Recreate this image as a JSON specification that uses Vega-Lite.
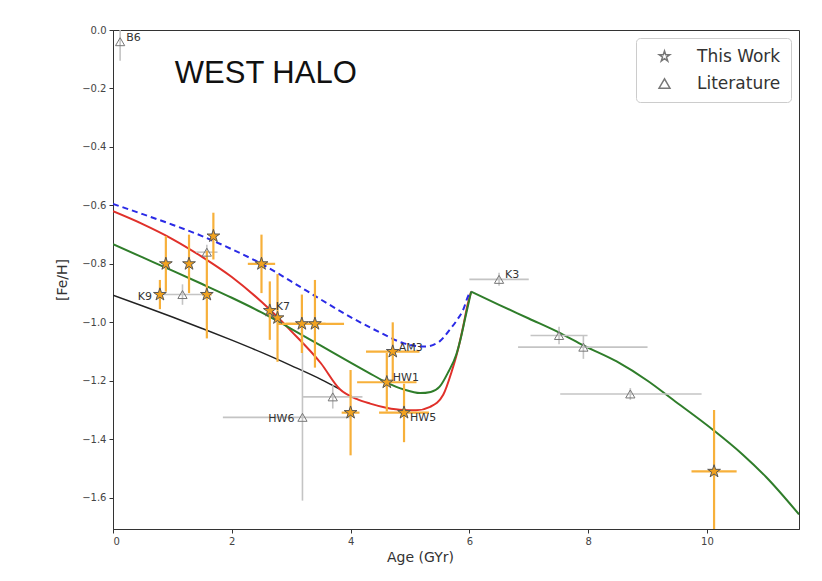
{
  "$schema": "https://vega.github.io/schema/vega-lite/v6.json",
  "width": 686,
  "height": 499,
  "autosize": {"type": "none"},
  "padding": {"left": 113, "top": 30, "right": 23, "bottom": 52},
  "background": "white",
  "config": {
    "font": "DejaVu Sans",
    "view": {"stroke": "#333", "strokeWidth": 1},
    "axis": {
      "grid": false,
      "domainColor": "#333",
      "tickColor": "#333",
      "tickSize": 4,
      "labelColor": "#444",
      "labelFont": "DejaVu Sans",
      "labelFontSize": 10,
      "labelPadding": 3,
      "titleFont": "DejaVu Sans",
      "titleFontSize": 14,
      "titleFontWeight": "normal",
      "titleColor": "#333"
    },
    "legend": {
      "labelFont": "DejaVu Sans",
      "labelFontSize": 17,
      "labelColor": "#333"
    }
  },
  "datasets": {
    "models": [
      {"model": "black", "age": 0.0, "feh": -0.907},
      {"model": "black", "age": 0.5, "feh": -0.944},
      {"model": "black", "age": 1.0, "feh": -0.982},
      {"model": "black", "age": 1.5, "feh": -1.021},
      {"model": "black", "age": 2.0, "feh": -1.061},
      {"model": "black", "age": 2.5, "feh": -1.103},
      {"model": "black", "age": 3.0, "feh": -1.148},
      {"model": "black", "age": 3.5, "feh": -1.195},
      {"model": "black", "age": 3.82, "feh": -1.229},

      {"model": "red", "age": 0.0, "feh": -0.62},
      {"model": "red", "age": 0.5, "feh": -0.664},
      {"model": "red", "age": 1.0, "feh": -0.715},
      {"model": "red", "age": 1.5, "feh": -0.776},
      {"model": "red", "age": 2.0, "feh": -0.845},
      {"model": "red", "age": 2.5, "feh": -0.93},
      {"model": "red", "age": 3.0, "feh": -1.03},
      {"model": "red", "age": 3.5, "feh": -1.14},
      {"model": "red", "age": 3.82, "feh": -1.229},
      {"model": "red", "age": 4.1, "feh": -1.262},
      {"model": "red", "age": 4.33, "feh": -1.278},
      {"model": "red", "age": 4.6, "feh": -1.292},
      {"model": "red", "age": 4.89, "feh": -1.3},
      {"model": "red", "age": 5.1, "feh": -1.301},
      {"model": "red", "age": 5.34, "feh": -1.289},
      {"model": "red", "age": 5.56, "feh": -1.248},
      {"model": "red", "age": 5.7, "feh": -1.17},
      {"model": "red", "age": 5.8, "feh": -1.1},
      {"model": "red", "age": 5.9, "feh": -1.01},
      {"model": "red", "age": 5.97, "feh": -0.94},
      {"model": "red", "age": 6.03, "feh": -0.895},

      {"model": "green", "age": 0.0, "feh": -0.733},
      {"model": "green", "age": 0.5, "feh": -0.778},
      {"model": "green", "age": 1.0, "feh": -0.823},
      {"model": "green", "age": 1.5, "feh": -0.869},
      {"model": "green", "age": 2.0, "feh": -0.916},
      {"model": "green", "age": 2.5, "feh": -0.966},
      {"model": "green", "age": 3.0, "feh": -1.022},
      {"model": "green", "age": 3.5, "feh": -1.08},
      {"model": "green", "age": 4.0, "feh": -1.138},
      {"model": "green", "age": 4.3, "feh": -1.172},
      {"model": "green", "age": 4.61, "feh": -1.206},
      {"model": "green", "age": 4.9, "feh": -1.23},
      {"model": "green", "age": 5.17, "feh": -1.242},
      {"model": "green", "age": 5.35, "feh": -1.238},
      {"model": "green", "age": 5.5, "feh": -1.22},
      {"model": "green", "age": 5.65, "feh": -1.168},
      {"model": "green", "age": 5.78, "feh": -1.11},
      {"model": "green", "age": 5.86, "feh": -1.05},
      {"model": "green", "age": 5.93, "feh": -0.985},
      {"model": "green", "age": 6.03, "feh": -0.895},

      {"model": "tail", "age": 6.03, "feh": -0.895},
      {"model": "tail", "age": 6.5, "feh": -0.94},
      {"model": "tail", "age": 7.0, "feh": -0.987},
      {"model": "tail", "age": 7.53, "feh": -1.037},
      {"model": "tail", "age": 7.92, "feh": -1.079},
      {"model": "tail", "age": 8.48, "feh": -1.134},
      {"model": "tail", "age": 9.0, "feh": -1.2},
      {"model": "tail", "age": 9.43, "feh": -1.265},
      {"model": "tail", "age": 10.11, "feh": -1.369},
      {"model": "tail", "age": 10.6, "feh": -1.452},
      {"model": "tail", "age": 11.0, "feh": -1.53},
      {"model": "tail", "age": 11.55, "feh": -1.657},

      {"model": "blue", "age": 0.0, "feh": -0.595},
      {"model": "blue", "age": 0.5, "feh": -0.63},
      {"model": "blue", "age": 1.0, "feh": -0.666},
      {"model": "blue", "age": 1.5, "feh": -0.705},
      {"model": "blue", "age": 2.0, "feh": -0.75},
      {"model": "blue", "age": 2.5, "feh": -0.8},
      {"model": "blue", "age": 3.0, "feh": -0.86},
      {"model": "blue", "age": 3.5, "feh": -0.922},
      {"model": "blue", "age": 4.0, "feh": -0.982},
      {"model": "blue", "age": 4.5, "feh": -1.035},
      {"model": "blue", "age": 4.9, "feh": -1.072},
      {"model": "blue", "age": 5.25, "feh": -1.083},
      {"model": "blue", "age": 5.5, "feh": -1.065},
      {"model": "blue", "age": 5.67, "feh": -1.025},
      {"model": "blue", "age": 5.8, "feh": -0.99},
      {"model": "blue", "age": 5.9, "feh": -0.955},
      {"model": "blue", "age": 5.98, "feh": -0.91},
      {"model": "blue", "age": 6.03, "feh": -0.895}
    ],
    "obs": [
      {"source": "Literature", "age": 0.12, "feh": -0.04, "age_lo": 0.12, "age_hi": 0.12, "feh_lo": -0.105, "feh_hi": 0.025, "label": "B6"},
      {"source": "Literature", "age": 1.17, "feh": -0.905, "age_lo": 0.82, "age_hi": 1.52, "feh_lo": -0.94, "feh_hi": -0.87, "label": ""},
      {"source": "Literature", "age": 1.58, "feh": -0.76, "age_lo": 1.4, "age_hi": 1.76, "feh_lo": -0.785, "feh_hi": -0.735, "label": ""},
      {"source": "Literature", "age": 3.19, "feh": -1.325, "age_lo": 1.85, "age_hi": 4.0, "feh_lo": -1.61, "feh_hi": -1.0, "label": "HW6"},
      {"source": "Literature", "age": 3.7, "feh": -1.255, "age_lo": 3.2, "age_hi": 4.2, "feh_lo": -1.295, "feh_hi": -1.215, "label": ""},
      {"source": "Literature", "age": 6.5, "feh": -0.853, "age_lo": 6.0, "age_hi": 7.0, "feh_lo": -0.875, "feh_hi": -0.83, "label": "K3"},
      {"source": "Literature", "age": 7.51, "feh": -1.045, "age_lo": 7.03, "age_hi": 7.99, "feh_lo": -1.075, "feh_hi": -1.015, "label": ""},
      {"source": "Literature", "age": 7.92, "feh": -1.085, "age_lo": 6.82, "age_hi": 9.0, "feh_lo": -1.125, "feh_hi": -1.045, "label": ""},
      {"source": "Literature", "age": 8.71, "feh": -1.245, "age_lo": 7.53, "age_hi": 9.91, "feh_lo": -1.265, "feh_hi": -1.225, "label": ""},

      {"source": "This Work", "age": 0.79, "feh": -0.905, "age_lo": 0.74, "age_hi": 0.84, "feh_lo": -0.955, "feh_hi": -0.855, "label": "K9"},
      {"source": "This Work", "age": 0.89, "feh": -0.8, "age_lo": 0.89, "age_hi": 0.89, "feh_lo": -0.895, "feh_hi": -0.705, "label": ""},
      {"source": "This Work", "age": 1.28, "feh": -0.8, "age_lo": 1.28, "age_hi": 1.28, "feh_lo": -0.9, "feh_hi": -0.7, "label": ""},
      {"source": "This Work", "age": 1.58, "feh": -0.905, "age_lo": 1.5, "age_hi": 1.66, "feh_lo": -1.055, "feh_hi": -0.755, "label": ""},
      {"source": "This Work", "age": 1.69, "feh": -0.705, "age_lo": 1.69, "age_hi": 1.69, "feh_lo": -0.785, "feh_hi": -0.625, "label": ""},
      {"source": "This Work", "age": 2.5, "feh": -0.8, "age_lo": 2.27, "age_hi": 2.73, "feh_lo": -0.9, "feh_hi": -0.7, "label": ""},
      {"source": "This Work", "age": 2.64, "feh": -0.96, "age_lo": 2.6, "age_hi": 2.68, "feh_lo": -1.06, "feh_hi": -0.86, "label": "K7"},
      {"source": "This Work", "age": 2.77, "feh": -0.985, "age_lo": 2.72, "age_hi": 2.82, "feh_lo": -1.135, "feh_hi": -0.835, "label": ""},
      {"source": "This Work", "age": 3.18, "feh": -1.005, "age_lo": 2.78, "age_hi": 3.58, "feh_lo": -1.105, "feh_hi": -0.905, "label": ""},
      {"source": "This Work", "age": 3.4, "feh": -1.005, "age_lo": 2.91, "age_hi": 3.89, "feh_lo": -1.155, "feh_hi": -0.855, "label": ""},
      {"source": "This Work", "age": 4.0, "feh": -1.309, "age_lo": 3.85, "age_hi": 4.15, "feh_lo": -1.455, "feh_hi": -1.163, "label": ""},
      {"source": "This Work", "age": 4.71, "feh": -1.1, "age_lo": 4.26, "age_hi": 5.16, "feh_lo": -1.2, "feh_hi": -1.0, "label": "AM3"},
      {"source": "This Work", "age": 4.61, "feh": -1.205, "age_lo": 4.11, "age_hi": 5.11, "feh_lo": -1.305, "feh_hi": -1.105, "label": "HW1"},
      {"source": "This Work", "age": 4.9, "feh": -1.309, "age_lo": 4.48, "age_hi": 5.32, "feh_lo": -1.41, "feh_hi": -1.21, "label": "HW5"},
      {"source": "This Work", "age": 10.12, "feh": -1.51, "age_lo": 9.74, "age_hi": 10.5, "feh_lo": -1.72, "feh_hi": -1.3, "label": ""}
    ]
  },
  "layer": [
    {
      "data": {"name": "models"},
      "transform": [{"filter": "datum.model === 'black'"}],
      "mark": {"type": "line", "color": "#222222", "strokeWidth": 1.5, "interpolate": "monotone", "clip": true},
      "encoding": {
        "x": {"field": "age", "type": "quantitative", "scale": {"domain": [0, 11.55], "nice": false, "zero": false},
              "axis": {"values": [0, 2, 4, 6, 8, 10], "format": "d", "title": "Age (GYr)", "titlePadding": 4, "titleX": 307}},
        "y": {"field": "feh", "type": "quantitative", "scale": {"domain": [-1.707, 0], "nice": false, "zero": false},
              "axis": {"values": [0, -0.2, -0.4, -0.6, -0.8, -1.0, -1.2, -1.4, -1.6], "format": ".1f", "title": "[Fe/H]", "titlePadding": 12}}
      }
    },
    {
      "data": {"name": "models"},
      "transform": [{"filter": "datum.model === 'red'"}],
      "mark": {"type": "line", "color": "#e0302a", "strokeWidth": 2, "interpolate": "monotone", "clip": true},
      "encoding": {
        "x": {"field": "age", "type": "quantitative"},
        "y": {"field": "feh", "type": "quantitative"}
      }
    },
    {
      "data": {"name": "models"},
      "transform": [{"filter": "datum.model === 'green' || datum.model === 'tail'"}],
      "mark": {"type": "line", "color": "#2f7d2a", "strokeWidth": 2, "interpolate": "monotone", "clip": true},
      "encoding": {
        "x": {"field": "age", "type": "quantitative"},
        "y": {"field": "feh", "type": "quantitative"},
        "detail": {"field": "model"}
      }
    },
    {
      "data": {"name": "models"},
      "transform": [{"filter": "datum.model === 'blue'"}],
      "mark": {"type": "line", "color": "#2a2ae6", "strokeWidth": 2, "strokeDash": [6, 4], "interpolate": "monotone", "clip": true},
      "encoding": {
        "x": {"field": "age", "type": "quantitative"},
        "y": {"field": "feh", "type": "quantitative"}
      }
    },
    {
      "data": {"name": "obs"},
      "mark": {"type": "rule", "clip": true},
      "encoding": {
        "x": {"field": "age_lo", "type": "quantitative"},
        "x2": {"field": "age_hi"},
        "y": {"field": "feh", "type": "quantitative"},
        "stroke": {"condition": {"test": "datum.source === 'This Work'", "value": "#f7b03a"}, "value": "#c4c4c4"},
        "strokeWidth": {"condition": {"test": "datum.source === 'This Work'", "value": 2.2}, "value": 1.6}
      }
    },
    {
      "data": {"name": "obs"},
      "mark": {"type": "rule", "clip": true},
      "encoding": {
        "x": {"field": "age", "type": "quantitative"},
        "y": {"field": "feh_lo", "type": "quantitative"},
        "y2": {"field": "feh_hi"},
        "stroke": {"condition": {"test": "datum.source === 'This Work'", "value": "#f7b03a"}, "value": "#c4c4c4"},
        "strokeWidth": {"condition": {"test": "datum.source === 'This Work'", "value": 2.2}, "value": 1.6}
      }
    },
    {
      "data": {"name": "obs"},
      "mark": {"type": "point", "filled": true, "clip": true},
      "encoding": {
        "x": {"field": "age", "type": "quantitative"},
        "y": {"field": "feh", "type": "quantitative"},
        "shape": {
          "field": "source",
          "type": "nominal",
          "scale": {
            "domain": ["This Work", "Literature"],
            "range": ["M0,-1L0.2245,-0.309L0.951,-0.309L0.363,0.118L0.588,0.809L0,0.382L-0.588,0.809L-0.363,0.118L-0.951,-0.309L-0.2245,-0.309Z", "triangle-up"]
          },
          "legend": {
            "title": null,
            "orient": "top-right",
            "offset": 8,
            "padding": 10,
            "symbolSize": 120,
            "symbolOffset": 10,
            "labelOffset": 24,
            "rowPadding": 9,
            "strokeColor": "#cccccc",
            "fillColor": "white",
            "cornerRadius": 4,
            "encode": {
              "symbols": {
                "update": {
                  "fill": {"value": "transparent"},
                  "stroke": {"value": "#555555"},
                  "strokeWidth": {"value": 1}
                }
              }
            }
          }
        },
        "fill": {"condition": {"test": "datum.source === 'This Work'", "value": "#f2a21e"}, "value": "transparent"},
        "stroke": {"condition": {"test": "datum.source === 'This Work'", "value": "#555555"}, "value": "#777777"},
        "strokeWidth": {"value": 1},
        "size": {"condition": {"test": "datum.source === 'This Work'", "value": 180}, "value": 85},
        "opacity": {"value": 1}
      }
    },
    {
      "data": {"name": "obs"},
      "transform": [{"filter": "datum.label === 'K9' || datum.label === 'HW6'"}],
      "mark": {"type": "text", "align": "right", "baseline": "middle", "dx": -8, "dy": 2, "fontSize": 11, "color": "#333333"},
      "encoding": {
        "x": {"field": "age", "type": "quantitative"},
        "y": {"field": "feh", "type": "quantitative"},
        "text": {"field": "label"}
      }
    },
    {
      "data": {"name": "obs"},
      "transform": [{"filter": "datum.label === 'B6' || datum.label === 'K3' || datum.label === 'K7' || datum.label === 'AM3' || datum.label === 'HW1'"}],
      "mark": {"type": "text", "align": "left", "baseline": "middle", "dx": 6, "dy": -4, "fontSize": 11, "color": "#333333"},
      "encoding": {
        "x": {"field": "age", "type": "quantitative"},
        "y": {"field": "feh", "type": "quantitative"},
        "text": {"field": "label"}
      }
    },
    {
      "data": {"name": "obs"},
      "transform": [{"filter": "datum.label === 'HW5'"}],
      "mark": {"type": "text", "align": "left", "baseline": "middle", "dx": 6, "dy": 5, "fontSize": 11, "color": "#333333"},
      "encoding": {
        "x": {"field": "age", "type": "quantitative"},
        "y": {"field": "feh", "type": "quantitative"},
        "text": {"field": "label"}
      }
    },
    {
      "data": {"values": [{"title": "WEST HALO"}]},
      "mark": {"type": "text", "align": "left", "baseline": "middle", "font": "Liberation Sans", "fontSize": 31, "color": "#111111"},
      "encoding": {
        "x": {"datum": 1.04, "type": "quantitative"},
        "y": {"datum": -0.152, "type": "quantitative"},
        "text": {"field": "title"}
      }
    }
  ]
}
